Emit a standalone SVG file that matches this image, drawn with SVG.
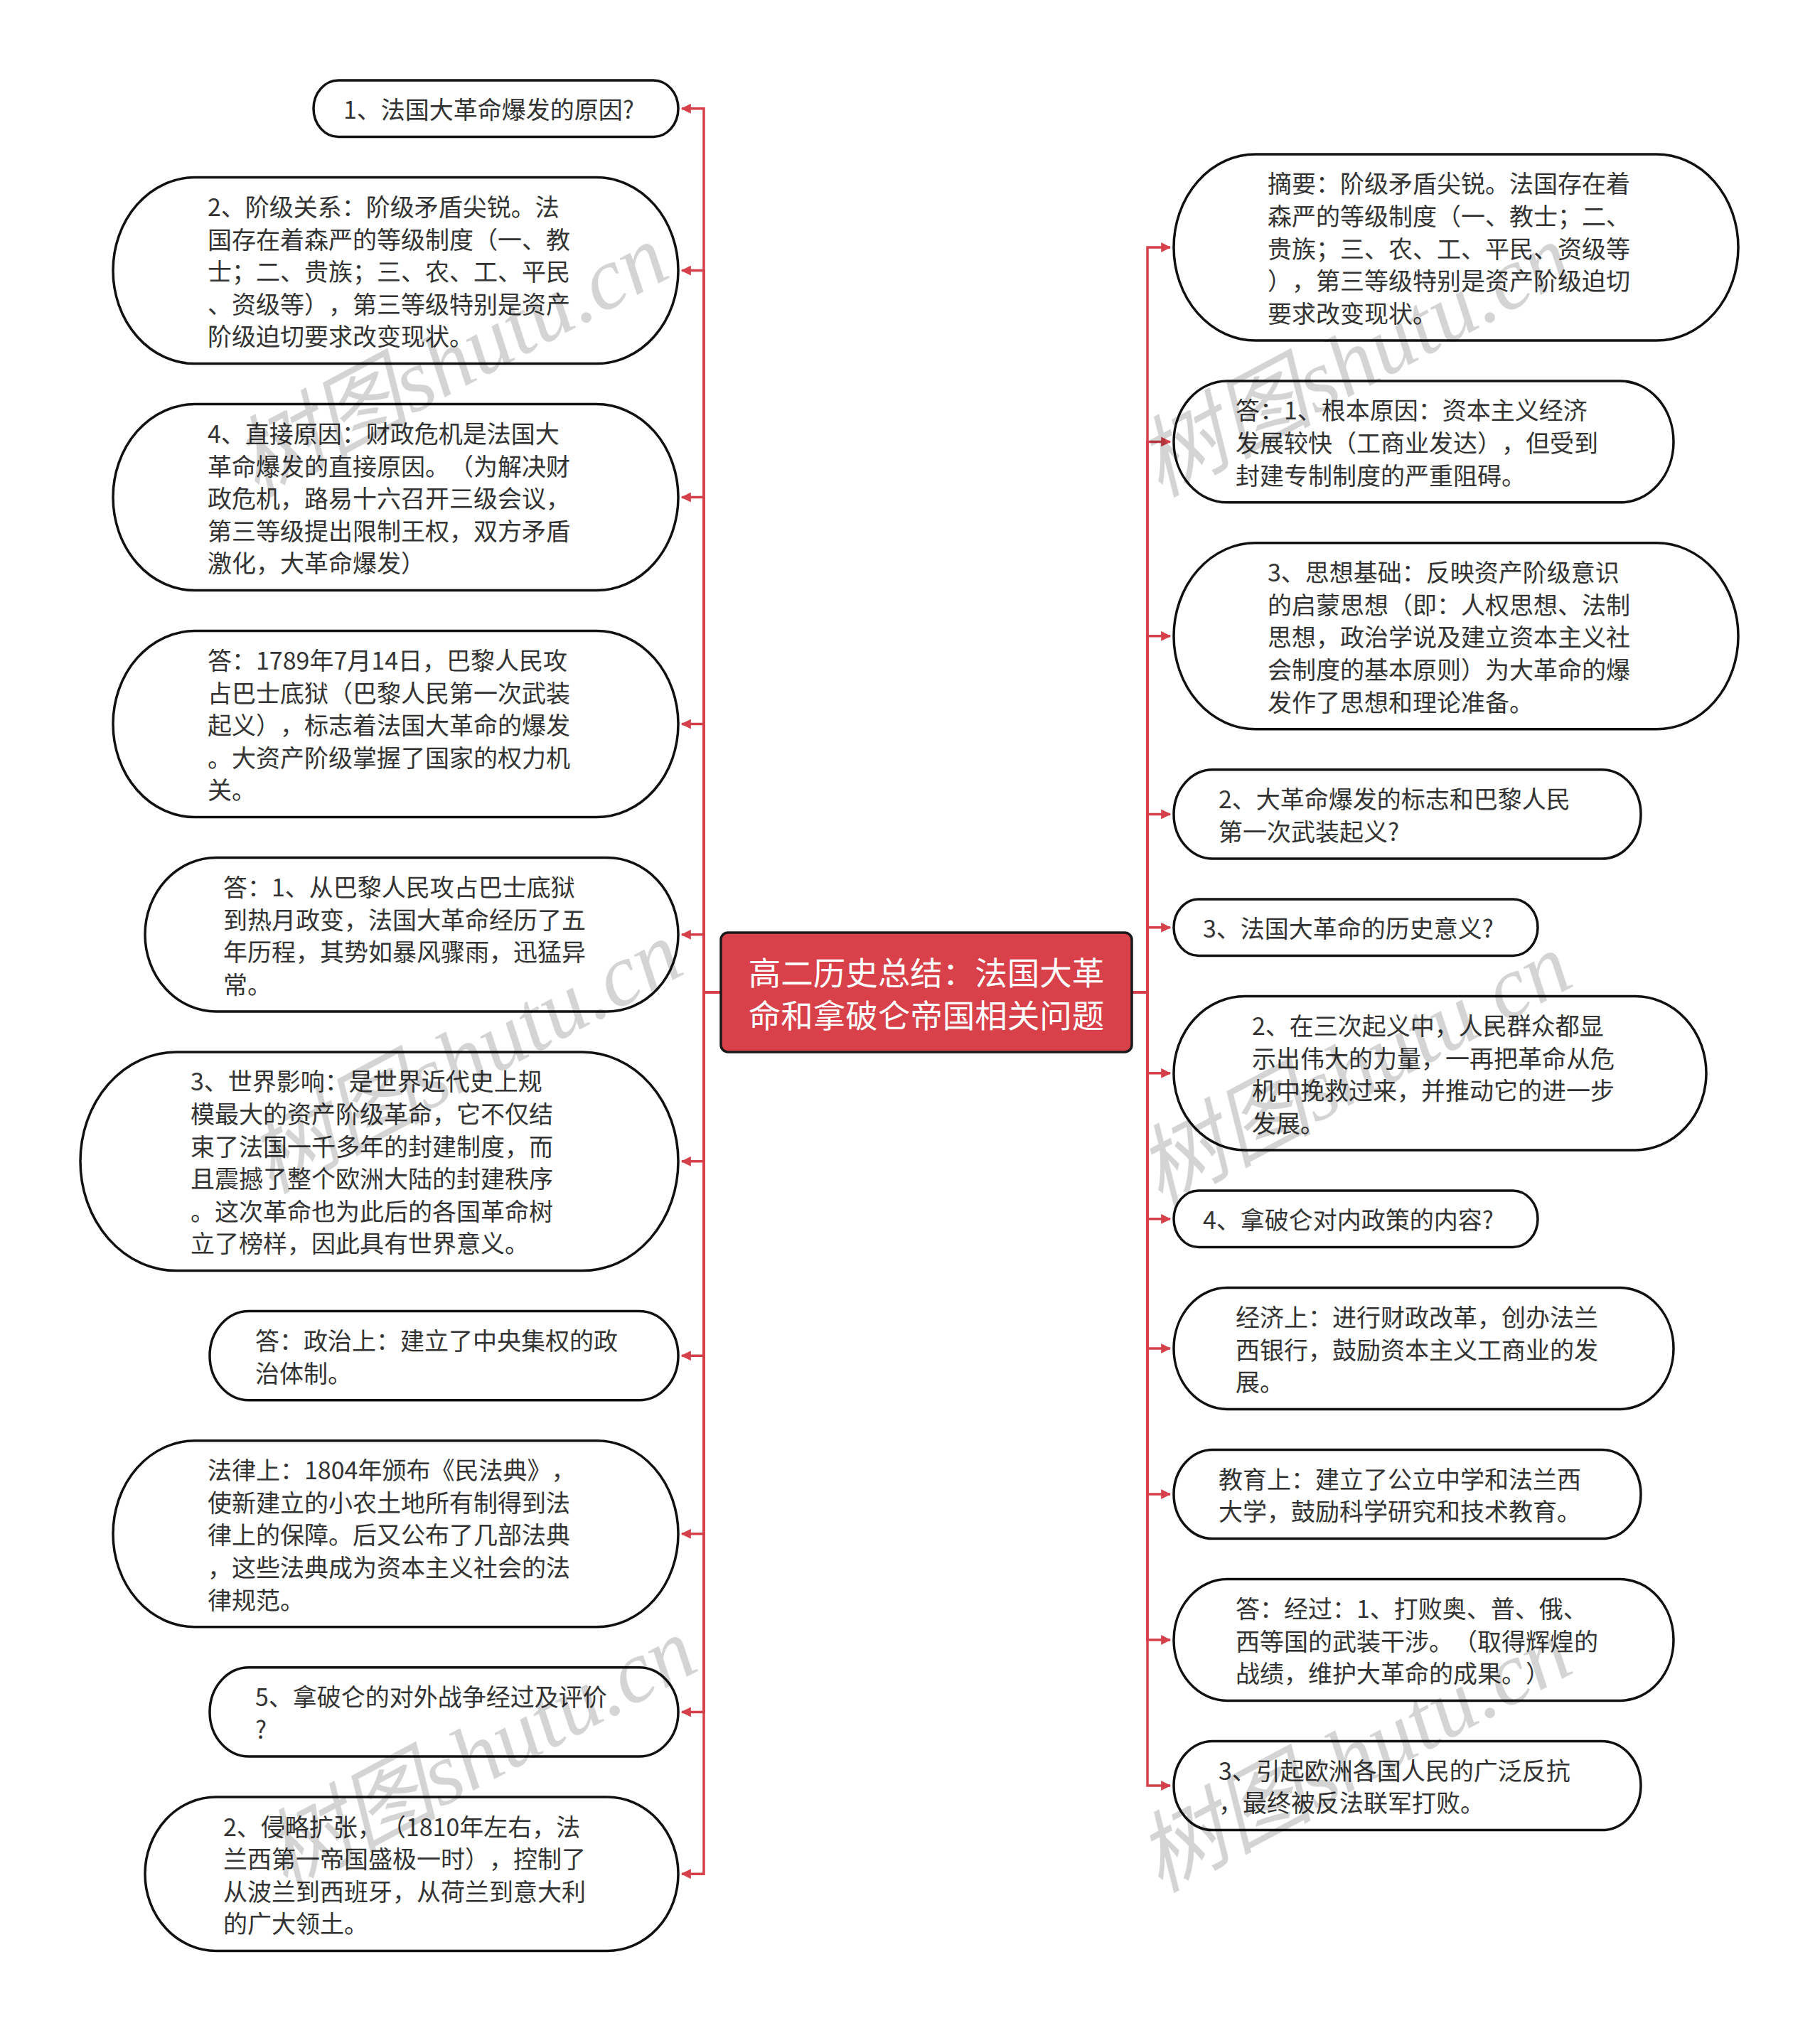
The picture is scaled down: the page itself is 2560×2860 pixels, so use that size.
<svg xmlns="http://www.w3.org/2000/svg" width="2560" height="2860" viewBox="0 0 2560 2860">
<style>
.bg{fill:#ffffff}
.node rect{fill:#ffffff;stroke:#111111;stroke-width:3.5}
.t{font-family:"Noto Sans CJK SC","Liberation Sans",sans-serif;font-size:34px;fill:#333333;dominant-baseline:central;text-spacing-trim:space-all;font-feature-settings:"halt" 0,"chws" 0}
.root rect{fill:#d8404a;stroke:#1a1a1a;stroke-width:3.5}
.rt{font-family:"Noto Sans CJK SC","Liberation Sans",sans-serif;font-size:45.5px;fill:#ffffff;text-anchor:middle;dominant-baseline:central;text-spacing-trim:space-all}
.conn path{fill:none;stroke:#d6404a;stroke-width:3.5;marker-end:url(#arr)}
.wm{font-family:"Liberation Serif","Noto Sans CJK SC",serif;font-style:italic;font-size:124px;fill:#000000;fill-opacity:0.17}
</style>
<defs>
<marker id="arr" markerUnits="userSpaceOnUse" viewBox="0 0 12 12" refX="11" refY="6" markerWidth="14" markerHeight="14" orient="auto">
<path d="M0,0 L12,6 L0,12 z" fill="#d6404a"/>
</marker>
</defs>
<rect class="bg" x="0" y="0" width="2560" height="2860"/>

<g id="connectors" class="conn">
<path d="M1014,1396 H990 V152.8 H959"/>
<path d="M1014,1396 H990 V380.6 H959"/>
<path d="M1014,1396 H990 V699.6 H959"/>
<path d="M1014,1396 H990 V1018.6 H959"/>
<path d="M1014,1396 H990 V1314.8 H959"/>
<path d="M1014,1396 H990 V1633.8 H959"/>
<path d="M1014,1396 H990 V1907.2 H959"/>
<path d="M1014,1396 H990 V2157.8 H959"/>
<path d="M1014,1396 H990 V2408.4 H959"/>
<path d="M1014,1396 H990 V2636.2 H959"/>
<path d="M1592,1396 H1614 V348 H1646"/>
<path d="M1592,1396 H1614 V621.4 H1646"/>
<path d="M1592,1396 H1614 V894.8 H1646"/>
<path d="M1592,1396 H1614 V1145.4 H1646"/>
<path d="M1592,1396 H1614 V1304.8 H1646"/>
<path d="M1592,1396 H1614 V1509.8 H1646"/>
<path d="M1592,1396 H1614 V1714.8 H1646"/>
<path d="M1592,1396 H1614 V1897 H1646"/>
<path d="M1592,1396 H1614 V2102 H1646"/>
<path d="M1592,1396 H1614 V2307 H1646"/>
<path d="M1592,1396 H1614 V2512 H1646"/>
</g>

<g id="root" class="root">
<rect x="1014" y="1312" width="578" height="168" rx="10" ry="10"/>
<text class="rt" x="1303" y="1366">高二历史总结：法国大革</text>
<text class="rt" x="1303" y="1426">命和拿破仑帝国相关问题</text>
</g>

<g id="L1" class="node">
<rect x="441" y="113" width="513" height="79.6" rx="35" ry="39.8"/>
<text class="t" x="483" y="152.8">1、法国大革命爆发的原因?</text>
</g>
<g id="L2" class="node">
<rect x="159" y="249.6" width="795" height="262" rx="115" ry="131"/>
<text class="t" x="292" y="289.4">2、阶级关系：阶级矛盾尖锐。法</text>
<text class="t" x="292" y="335">国存在着森严的等级制度（一、教</text>
<text class="t" x="292" y="380.6">士；二、贵族；三、农、工、平民</text>
<text class="t" x="292" y="426.2">、资级等），第三等级特别是资产</text>
<text class="t" x="292" y="471.8">阶级迫切要求改变现状。</text>
</g>
<g id="L3" class="node">
<rect x="159" y="568.6" width="795" height="262" rx="115" ry="131"/>
<text class="t" x="292" y="608.4">4、直接原因：财政危机是法国大</text>
<text class="t" x="292" y="654">革命爆发的直接原因。（为解决财</text>
<text class="t" x="292" y="699.6">政危机，路易十六召开三级会议，</text>
<text class="t" x="292" y="745.2">第三等级提出限制王权，双方矛盾</text>
<text class="t" x="292" y="790.8">激化，大革命爆发）</text>
</g>
<g id="L4" class="node">
<rect x="159" y="887.6" width="795" height="262" rx="115" ry="131"/>
<text class="t" x="292" y="927.4">答：1789年7月14日，巴黎人民攻</text>
<text class="t" x="292" y="973">占巴士底狱（巴黎人民第一次武装</text>
<text class="t" x="292" y="1018.6">起义），标志着法国大革命的爆发</text>
<text class="t" x="292" y="1064.2">。大资产阶级掌握了国家的权力机</text>
<text class="t" x="292" y="1109.8">关。</text>
</g>
<g id="L5" class="node">
<rect x="204" y="1206.6" width="750" height="216.4" rx="100" ry="108.2"/>
<text class="t" x="314" y="1246.4">答：1、从巴黎人民攻占巴士底狱</text>
<text class="t" x="314" y="1292">到热月政变，法国大革命经历了五</text>
<text class="t" x="314" y="1337.6">年历程，其势如暴风骤雨，迅猛异</text>
<text class="t" x="314" y="1383.2">常。</text>
</g>
<g id="L6" class="node">
<rect x="113" y="1480" width="841" height="307.6" rx="135" ry="153.8"/>
<text class="t" x="268" y="1519.8">3、世界影响：是世界近代史上规</text>
<text class="t" x="268" y="1565.4">模最大的资产阶级革命，它不仅结</text>
<text class="t" x="268" y="1611">束了法国一千多年的封建制度，而</text>
<text class="t" x="268" y="1656.6">且震撼了整个欧洲大陆的封建秩序</text>
<text class="t" x="268" y="1702.2">。这次革命也为此后的各国革命树</text>
<text class="t" x="268" y="1747.8">立了榜样，因此具有世界意义。</text>
</g>
<g id="L7" class="node">
<rect x="295" y="1844.6" width="659" height="125.2" rx="55" ry="62.6"/>
<text class="t" x="359" y="1884.4">答：政治上：建立了中央集权的政</text>
<text class="t" x="359" y="1930">治体制。</text>
</g>
<g id="L8" class="node">
<rect x="159" y="2026.8" width="795" height="262" rx="115" ry="131"/>
<text class="t" x="292" y="2066.6">法律上：1804年颁布《民法典》，</text>
<text class="t" x="292" y="2112.2">使新建立的小农土地所有制得到法</text>
<text class="t" x="292" y="2157.8">律上的保障。后又公布了几部法典</text>
<text class="t" x="292" y="2203.4">，这些法典成为资本主义社会的法</text>
<text class="t" x="292" y="2249">律规范。</text>
</g>
<g id="L9" class="node">
<rect x="295" y="2345.8" width="659" height="125.2" rx="55" ry="62.6"/>
<text class="t" x="359" y="2385.6">5、拿破仑的对外战争经过及评价</text>
<text class="t" x="359" y="2431.2">?</text>
</g>
<g id="L10" class="node">
<rect x="204" y="2528" width="750" height="216.4" rx="100" ry="108.2"/>
<text class="t" x="314" y="2568">2、侵略扩张，（1810年左右，法</text>
<text class="t" x="314" y="2613.6">兰西第一帝国盛极一时），控制了</text>
<text class="t" x="314" y="2659.2">从波兰到西班牙，从荷兰到意大利</text>
<text class="t" x="314" y="2704.8">的广大领土。</text>
</g>

<g id="R1" class="node">
<rect x="1651" y="217" width="794" height="262" rx="115" ry="131"/>
<text class="t" x="1783" y="256.8">摘要：阶级矛盾尖锐。法国存在着</text>
<text class="t" x="1783" y="302.4">森严的等级制度（一、教士；二、</text>
<text class="t" x="1783" y="348">贵族；三、农、工、平民、资级等</text>
<text class="t" x="1783" y="393.6">），第三等级特别是资产阶级迫切</text>
<text class="t" x="1783" y="439.2">要求改变现状。</text>
</g>
<g id="R2" class="node">
<rect x="1651" y="536" width="703" height="170.8" rx="75" ry="85.4"/>
<text class="t" x="1738" y="575.8">答：1、根本原因：资本主义经济</text>
<text class="t" x="1738" y="621.4">发展较快（工商业发达），但受到</text>
<text class="t" x="1738" y="667">封建专制制度的严重阻碍。</text>
</g>
<g id="R3" class="node">
<rect x="1651" y="763.8" width="794" height="262" rx="115" ry="131"/>
<text class="t" x="1783" y="803.6">3、思想基础：反映资产阶级意识</text>
<text class="t" x="1783" y="849.2">的启蒙思想（即：人权思想、法制</text>
<text class="t" x="1783" y="894.8">思想，政治学说及建立资本主义社</text>
<text class="t" x="1783" y="940.4">会制度的基本原则）为大革命的爆</text>
<text class="t" x="1783" y="986">发作了思想和理论准备。</text>
</g>
<g id="R4" class="node">
<rect x="1651" y="1082.8" width="657" height="125.2" rx="55" ry="62.6"/>
<text class="t" x="1714" y="1122.6">2、大革命爆发的标志和巴黎人民</text>
<text class="t" x="1714" y="1168.2">第一次武装起义?</text>
</g>
<g id="R5" class="node">
<rect x="1651" y="1265" width="512" height="79.6" rx="35" ry="39.8"/>
<text class="t" x="1692" y="1304.8">3、法国大革命的历史意义?</text>
</g>
<g id="R6" class="node">
<rect x="1651" y="1401.6" width="749" height="216.4" rx="100" ry="108.2"/>
<text class="t" x="1761" y="1441.4">2、在三次起义中，人民群众都显</text>
<text class="t" x="1761" y="1487">示出伟大的力量，一再把革命从危</text>
<text class="t" x="1761" y="1532.6">机中挽救过来，并推动它的进一步</text>
<text class="t" x="1761" y="1578.2">发展。</text>
</g>
<g id="R7" class="node">
<rect x="1651" y="1675" width="512" height="79.6" rx="35" ry="39.8"/>
<text class="t" x="1692" y="1714.8">4、拿破仑对内政策的内容?</text>
</g>
<g id="R8" class="node">
<rect x="1651" y="1811.6" width="703" height="170.8" rx="75" ry="85.4"/>
<text class="t" x="1738" y="1851.4">经济上：进行财政改革，创办法兰</text>
<text class="t" x="1738" y="1897">西银行，鼓励资本主义工商业的发</text>
<text class="t" x="1738" y="1942.6">展。</text>
</g>
<g id="R9" class="node">
<rect x="1651" y="2039.4" width="657" height="125.2" rx="55" ry="62.6"/>
<text class="t" x="1714" y="2079.2">教育上：建立了公立中学和法兰西</text>
<text class="t" x="1714" y="2124.8">大学，鼓励科学研究和技术教育。</text>
</g>
<g id="R10" class="node">
<rect x="1651" y="2221.6" width="703" height="170.8" rx="75" ry="85.4"/>
<text class="t" x="1738" y="2261.4">答：经过：1、打败奥、普、俄、</text>
<text class="t" x="1738" y="2307">西等国的武装干涉。（取得辉煌的</text>
<text class="t" x="1738" y="2352.6">战绩，维护大革命的成果。）</text>
</g>
<g id="R11" class="node">
<rect x="1651" y="2449.4" width="657" height="125.2" rx="55" ry="62.6"/>
<text class="t" x="1714" y="2489.2">3、引起欧洲各国人民的广泛反抗</text>
<text class="t" x="1714" y="2534.8">，最终被反法联军打败。</text>
</g>

<g id="watermark">
<text class="wm" transform="translate(360,700) rotate(-28)">树图shutu.cn</text>
<text class="wm" transform="translate(380,1680) rotate(-28)">树图shutu.cn</text>
<text class="wm" transform="translate(400,2660) rotate(-28)">树图shutu.cn</text>
<text class="wm" transform="translate(1631,700) rotate(-28)">树图shutu.cn</text>
<text class="wm" transform="translate(1631,1697) rotate(-28)">树图shutu.cn</text>
<text class="wm" transform="translate(1631,2663) rotate(-28)">树图shutu.cn</text>
</g>
</svg>
